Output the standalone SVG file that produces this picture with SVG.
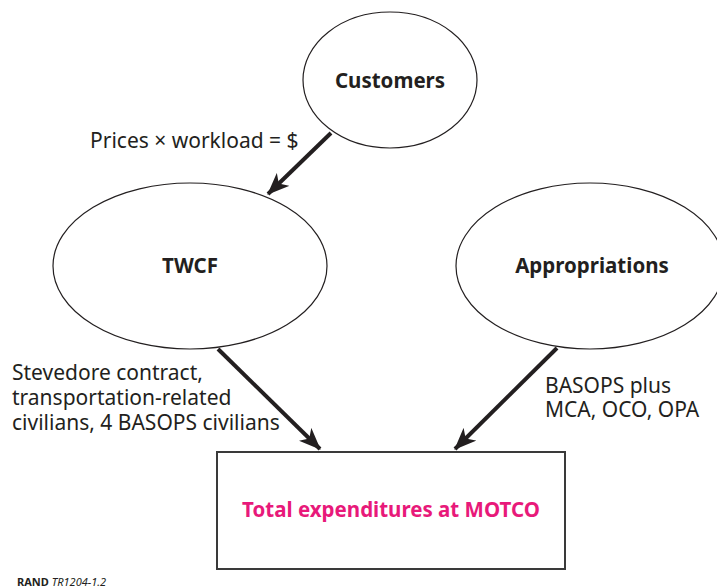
<svg xmlns="http://www.w3.org/2000/svg" width="717" height="588" viewBox="0 0 717 588">
<style>
.node{fill:#fff;stroke:#231f20;stroke-width:1.2}
.box{fill:#fff;stroke:#3a3a3a;stroke-width:2}
.lbl{font-family:"Noto Sans","Open Sans",sans-serif;font-size:21px;fill:#231f20}
.title{font-family:"Noto Sans","Open Sans",sans-serif;font-size:20.5px;font-weight:bold;fill:#231f20;text-anchor:middle}
.edge{stroke:#231f20;stroke-width:4;fill:none}
</style>
<defs>
<marker id="ah" viewBox="0 0 22 18" refX="21" refY="9" markerWidth="22" markerHeight="18" markerUnits="userSpaceOnUse" orient="auto">
<path d="M0,0 L22,9 L0,18 L6,9 Z" fill="#231f20"/>
</marker>
</defs>
<g id="customers">
<ellipse class="node" cx="390" cy="80" rx="87" ry="68"/>
<text class="title" x="390" y="88">Customers</text>
</g>
<g id="twcf">
<ellipse class="node" cx="190" cy="266" rx="137" ry="83"/>
<text class="title" x="190" y="273">TWCF</text>
</g>
<g id="appropriations">
<ellipse class="node" cx="590" cy="266" rx="134" ry="83"/>
<text class="title" x="592" y="273">Appropriations</text>
</g>
<g id="total">
<rect class="box" x="217" y="452" width="348" height="117"/>
<text class="title" x="391" y="517" style="fill:#e8197a">Total expenditures at MOTCO</text>
</g>
<g id="connectors">
<line class="edge" x1="331" y1="133" x2="268" y2="194" marker-end="url(#ah)"/>
<line class="edge" x1="218" y1="349" x2="320" y2="449" marker-end="url(#ah)"/>
<line class="edge" x1="557" y1="348" x2="455" y2="449" marker-end="url(#ah)"/>
</g>
<g id="labels">
<text class="lbl" x="90" y="148">Prices × workload = $</text>
<text class="lbl" x="12" y="380">Stevedore contract,</text>
<text class="lbl" x="12" y="405">transportation-related</text>
<text class="lbl" x="12" y="430">civilians, 4 BASOPS civilians</text>
<text class="lbl" x="545" y="393">BASOPS plus</text>
<text class="lbl" x="545" y="417">MCA, OCO, OPA</text>
</g>
<text x="17" y="586" style="font-family:'Noto Sans','Open Sans',sans-serif;font-size:11px;fill:#231f20"><tspan font-weight="bold">RAND</tspan> <tspan font-style="italic">TR1204-1.2</tspan></text>
</svg>
